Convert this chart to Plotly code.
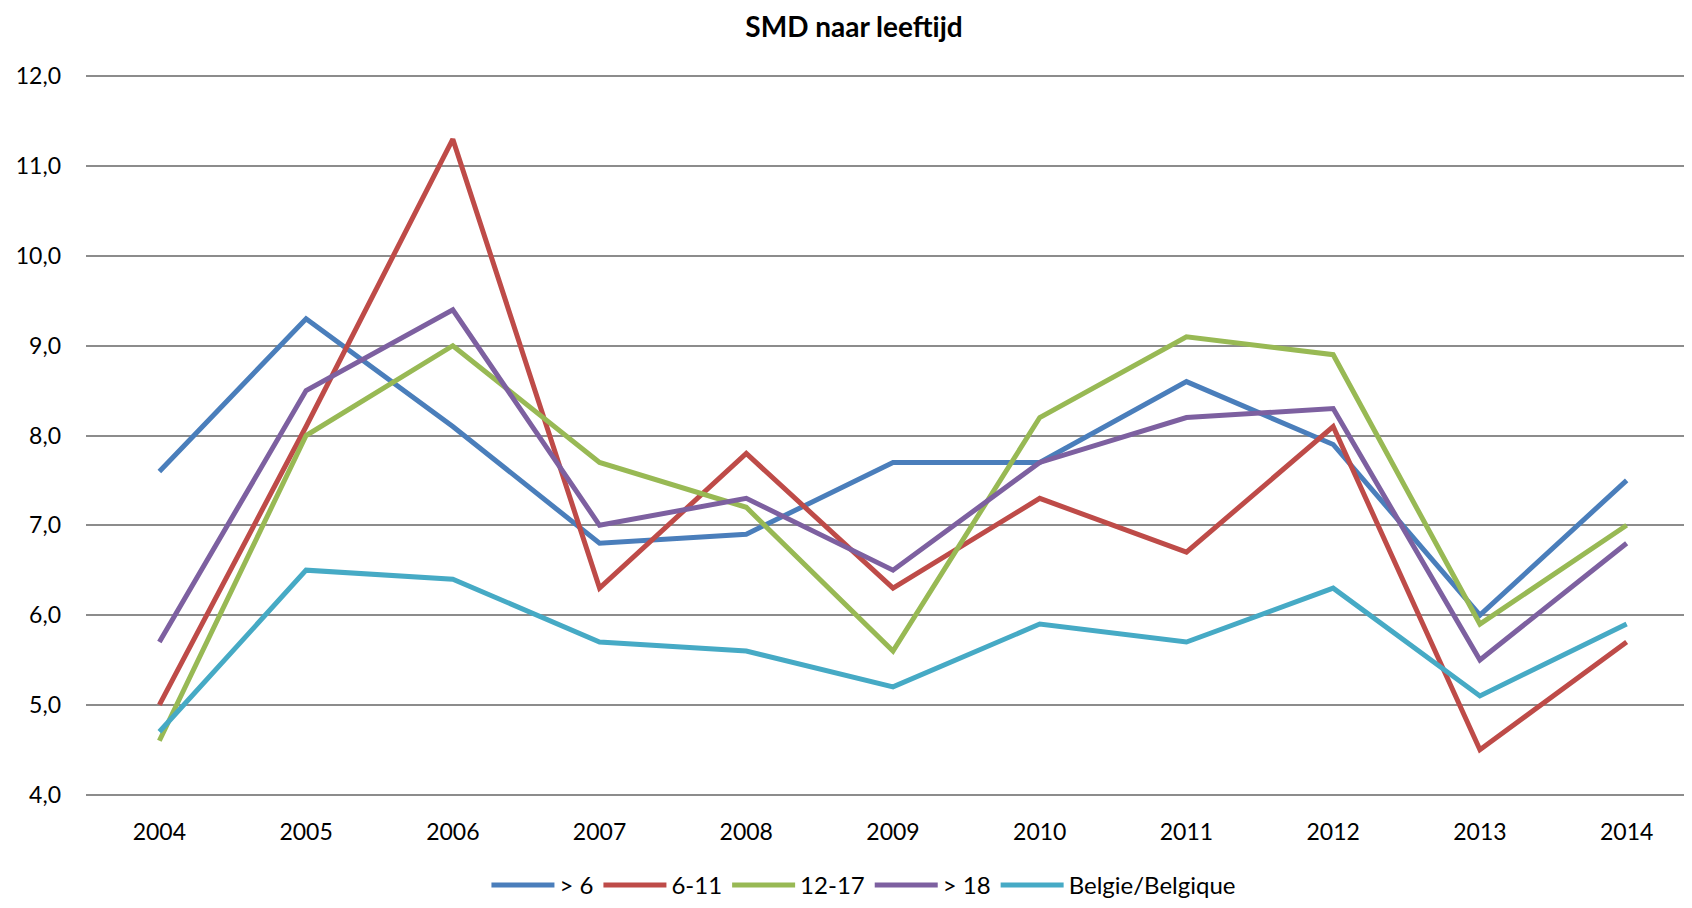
import plotly.graph_objects as go

years = ["2004", "2005", "2006", "2007", "2008", "2009", "2010", "2011", "2012", "2013", "2014"]
s_lt6 = [7.6, 9.3, 8.1, 6.8, 6.9, 7.7, 7.7, 8.6, 7.9, 6.0, 7.5]
s_6_11 = [5.0, 8.1, 11.3, 6.3, 7.8, 6.3, 7.3, 6.7, 8.1, 4.5, 5.7]
s_12_17 = [4.6, 8.0, 9.0, 7.7, 7.2, 5.6, 8.2, 9.1, 8.9, 5.9, 7.0]
s_gt18 = [5.7, 8.5, 9.4, 7.0, 7.3, 6.5, 7.7, 8.2, 8.3, 5.5, 6.8]
s_be = [4.7, 6.5, 6.4, 5.7, 5.6, 5.2, 5.9, 5.7, 6.3, 5.1, 5.9]

names = ["> 6", "6-11", "12-17", "> 18", "Belgie/Belgique"]
series = [s_lt6, s_6_11, s_12_17, s_gt18, s_be]
colors = ["#4A7EBB", "#BE4B48", "#98B954", "#7D60A0", "#46AAC5"]

FONT = "Lato, 'Open Sans', sans-serif"

fig = go.Figure()
for n, s, c in zip(names, series, colors):
    fig.add_trace(go.Scatter(x=years, y=s, name=n, mode="lines",
                             line=dict(color=c, width=5)))

fig.update_layout(
    width=1692, height=900,
    paper_bgcolor="white", plot_bgcolor="white",
    margin=dict(l=78, r=0, t=67, b=107),
    separators=",.",
    font=dict(family=FONT, size=23, color="black"),
    title=dict(text="<b>SMD naar leeftijd</b>", x=0.5, xanchor="center",
               y=0.979, yanchor="middle", font=dict(family=FONT, size=28, color="black")),
    xaxis=dict(type="category", showgrid=False, showline=False, zeroline=False,
               ticks="", tickfont=dict(size=23), ticklabelstandoff=20,
               range=[-0.5, 10.5]),
    yaxis=dict(range=[3.985, 12.015], tickvals=[4, 5, 6, 7, 8, 9, 10, 11, 12],
               tickformat=".1f", showgrid=True,
               gridcolor="#8C8C8C", gridwidth=1.5, zeroline=False, showline=False,
               ticks="", tickfont=dict(size=23), ticklabelstandoff=24),
    legend=dict(orientation="h", x=0.482, xanchor="center", y=-0.124, yanchor="middle",
                font=dict(size=24), itemwidth=63, tracegroupgap=0),
)

fig.write_html("out.html")
